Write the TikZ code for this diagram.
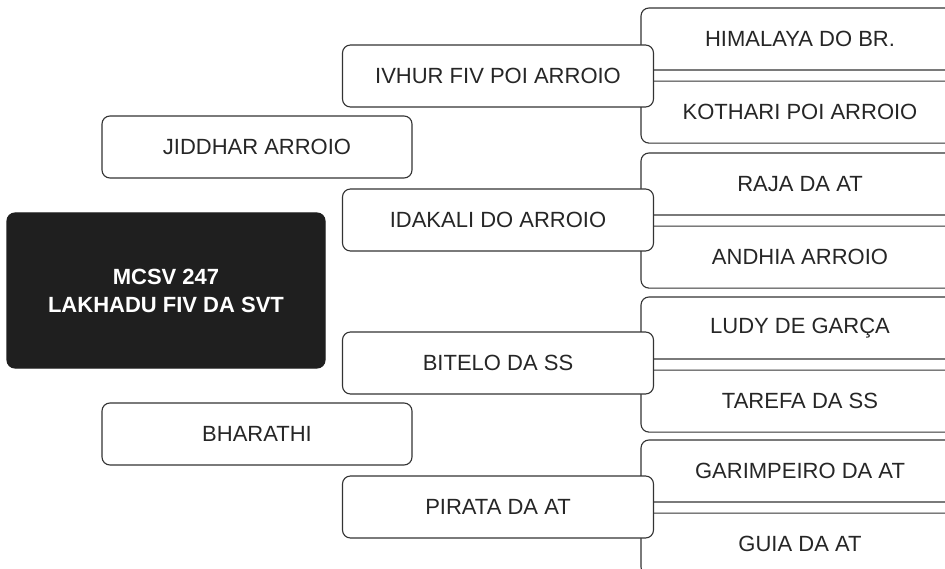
\documentclass[tikz,border=0pt]{standalone}
\usepackage{fontspec}
\setmainfont{Liberation Sans}
\usetikzlibrary{positioning}

\begin{document}
\begin{tikzpicture}[
  x=1pt, y=-1pt,
  N/.style={
    draw=black!80, fill=white, rounded corners=8pt, align=center,
    font=\fontsize{22}{26}\selectfont, text=black!85,
    minimum width=310pt, minimum height=62pt, inner sep=0pt,
    line width=1.1pt},
  Nright/.style={N, minimum width=318pt},
  Nmain/.style={
    N, fill=black!88, draw=black!88, text=white,
    font=\fontsize{22}{27}\selectfont\bfseries,
    minimum width=318pt, minimum height=155pt},
]
\clip (0,0) rectangle (945,569);
\fill[white] (0,0) rectangle (945,569);

%% GRANDPARENTS (right column)
\node[Nright] (HIM) at (800,39)  {HIMALAYA DO BR.};
\node[Nright, below=10pt of HIM] (KOT) {KOTHARI POI ARROIO};
\node[Nright] (RAJ) at (800,184) {RAJA DA AT};
\node[Nright, below=10pt of RAJ] (AND) {ANDHIA ARROIO};
\node[Nright] (LUD) at (800,328) {LUDY DE GARÇA};
\node[Nright, below=10pt of LUD] (TAR) {TAREFA DA SS};
\node[Nright] (GAR) at (800,471) {GARIMPEIRO DA AT};
\node[Nright, below=10pt of GAR] (GUI) {GUIA DA AT};

%% PARENTS (middle column)
\node[N, minimum width=311pt] (IVH) at (498,76)  {IVHUR FIV POI ARROIO};
\node[N, minimum width=311pt] (IDA) at (498,220) {IDAKALI DO ARROIO};
\node[N, minimum width=311pt] (BIT) at (498,363) {BITELO DA SS};
\node[N, minimum width=311pt] (PIR) at (498,507) {PIRATA DA AT};

%% SIRE / DAM (left column)
\node[N] (JID) at (257,147) {JIDDHAR ARROIO};
\node[N] (BHA) at (257,434) {BHARATHI};

%% ANIMAL
\node[Nmain] (MAIN) at (166,290.5)
  {MCSV 247\\[1pt]LAKHADU FIV DA SVT};

\end{tikzpicture}
\end{document}
